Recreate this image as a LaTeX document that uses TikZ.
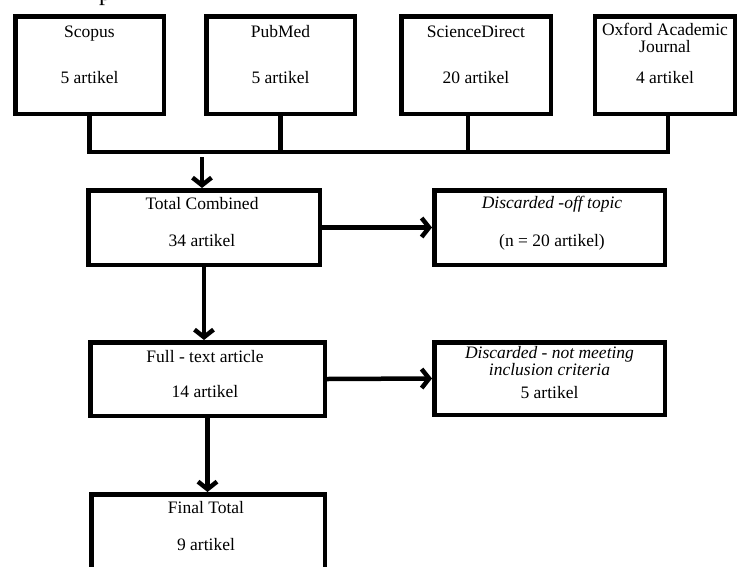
\documentclass[tikz,border=0pt]{standalone}
\usepackage{fontspec}
\setmainfont{Liberation Serif}
\usetikzlibrary{arrows.meta}
\tikzset{
  box/.style={draw=black, line width=4.5pt, inner sep=0pt, fill=white},
  txt/.style={anchor=base, inner sep=0pt, font=\fontsize{17.5}{15}\selectfont},
  conn/.style={line width=4.5pt, line join=miter},
  arr/.style={line width=4.5pt, -{Straight Barb[length=7.5pt,width=19pt,line width=4.5pt]}},
}
\begin{document}
\begin{tikzpicture}[x=1pt,y=-1pt]
\useasboundingbox (0,0) rectangle (737,566);
\clip (0,0) rectangle (737,566);
\fill[white] (0,0) rectangle (737,566);
% cut-off glyph at the top
\node[anchor=base west, inner sep=0pt, font=\fontsize{24}{24}\selectfont] (topfrag) at (99,0) {p};
% source boxes
\node[box, minimum width=148.5pt, minimum height=97.5pt] (scopus) at (89.5,65) {};
\node[box, minimum width=148.5pt, minimum height=97.5pt] (pubmed) at (280.5,65) {};
\node[box, minimum width=149.5pt, minimum height=97.5pt] (sd) at (476,65) {};
\node[box, minimum width=140pt, minimum height=97.5pt] (oxford) at (665,65) {};
\node[txt] (scopusA) at (89.5,37.5) {Scopus};
\node[txt] (scopusB) at (89.5,83.5) {5 artikel};
\node[txt] (pubmedA) at (280.5,37.5) {PubMed};
\node[txt] (pubmedB) at (280.5,83.5) {5 artikel};
\node[txt] (sdA) at (476,37.5) {ScienceDirect};
\node[txt] (sdB) at (476,83.5) {20 artikel};
\node[txt] (oxfordA) at (665,35) {Oxford Academic};
\node[txt] (oxfordB) at (665,52) {Journal};
\node[txt] (oxfordC) at (665,83.5) {4 artikel};
% bus
\coordinate (busL) at (89.5,152);
\coordinate (busR) at (668,152);
\coordinate (sdstem) at (468,113.75);
\draw[conn] (scopus.south) -- (busL) -- (busR) -- (busR |- oxford.south);
\draw[conn] (pubmed.south) -- (pubmed.south |- busL);
\draw[conn] (sdstem) -- (sdstem |- busL);
% middle boxes
\node[box, minimum width=231.5pt, minimum height=74.5pt] (total) at (204,227.5) {};
\node[box, minimum width=230.5pt, minimum height=74.5pt] (disc1) at (549.5,227.5) {};
\node[box, minimum width=234.5pt, minimum height=73.5pt] (full) at (207.5,379) {};
\node[box, minimum width=230.5pt, minimum height=72.5pt] (disc2) at (549.5,378.5) {};
\node[box, minimum width=233.5pt, minimum height=100pt] (final) at (208,544.25) {};
\node[txt] (totalA) at (202,209) {Total Combined};
\node[txt] (totalB) at (202,246) {34 artikel};
\node[txt] (disc1A) at (552,208) {\itshape Discarded -off topic};
\node[txt] (disc1B) at (552,246) {(n = 20 artikel)};
\node[txt] (fullA) at (205,362) {Full - text article};
\node[txt] (fullB) at (205,397) {14 artikel};
\node[txt] (disc2A) at (549.5,358) {\itshape Discarded - not meeting};
\node[txt] (disc2B) at (549.5,375) {\itshape inclusion criteria};
\node[txt] (disc2C) at (549.5,398.5) {5 artikel};
\node[txt] (finalA) at (206,513) {Final Total};
\node[txt] (finalB) at (206,550) {9 artikel};
% arrows
\coordinate (busarrow) at (202,157);
\draw[arr] (busarrow) -- (busarrow |- total.north);
\draw[arr] (total.east) -- (disc1.west);
\draw[arr] (total.south) -- (total.south |- full.north);
\draw[arr] (full.east) -- (disc2.west);
\draw[arr] (full.south) -- (full.south |- final.north);
\end{tikzpicture}
\end{document}
